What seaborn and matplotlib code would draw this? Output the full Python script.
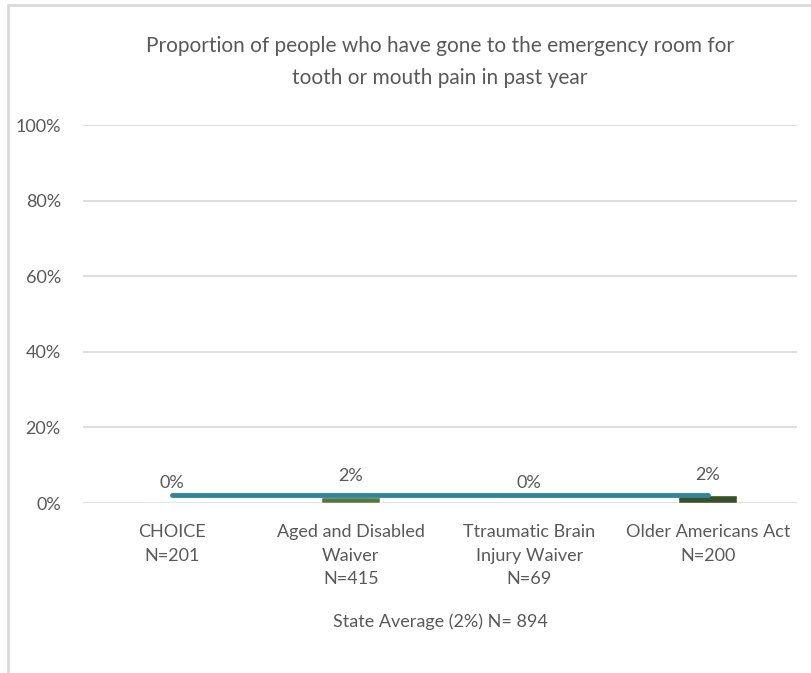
import numpy as np
import pandas as pd
import seaborn as sns
import matplotlib.pyplot as plt
from matplotlib.lines import Line2D

# data
programs = ["CHOICE\nN=201",
            "Aged and Disabled\nWaiver\nN=415",
            "Ttraumatic Brain\nInjury Waiver\nN=69",
            "Older Americans Act\nN=200"]
pct = [0.0, 1.6, 0.0, 2.1]
pct_labels = ["0%", "2%", "0%", "2%"]
state_avg = 2.0
state_text = "State Average (2%) N= 894"
title = "Proportion of people who have gone to the emergency room for\ntooth or mouth pain in past year"

bar_colors = ["#70AD47", "#548235", "#A9D18E", "#375623"]
line_color = "#31869B"
text_color = "#595959"
grid_color = "#D9D9D9"

sns.set_theme(style="white")
plt.rcParams['font.family'] = ['Lato', 'DejaVu Sans']

df = pd.DataFrame({'program': programs, 'pct': pct})

fig = plt.figure(figsize=(8.12, 6.73), dpi=100)
ax = fig.add_axes([83 / 812, 1 - 503 / 673, (797 - 83) / 812, (503 - 125) / 673])

sns.barplot(data=df, x='program', y='pct', hue='program', palette=bar_colors,
            width=0.33, legend=False, ax=ax, zorder=2)

# state average line across the categories
xs = np.arange(len(programs))
ax.plot(xs, [state_avg] * len(programs), color=line_color, lw=3.5,
        solid_capstyle='round', zorder=3)

for x, v, lab in zip(xs, pct, pct_labels):
    ax.annotate(lab, (x, v), xytext=(0, 9), textcoords='offset points',
                ha='center', va='bottom', fontsize=13, color=text_color)

ax.set_ylim(0, 100)
ax.set_yticks(range(0, 101, 20))
ax.set_yticklabels([f"{t}%" for t in range(0, 101, 20)])
ax.set_xlim(-0.5, len(programs) - 0.5)
ax.yaxis.grid(True, color=grid_color, lw=1.2, zorder=0)
ax.set_axisbelow(True)
for s in ax.spines.values():
    s.set_visible(False)
ax.tick_params(axis='both', length=0, labelsize=13, labelcolor=text_color)
ax.tick_params(axis='y', pad=16)
ax.tick_params(axis='x', pad=15)
for t in ax.get_xticklabels():
    t.set_linespacing(1.6)
ax.set_xlabel("")
ax.set_ylabel("")

fig.text(440 / 812, 1 - 62 / 673, title, ha='center', va='center',
         fontsize=15, color=text_color, linespacing=1.75)
fig.text(440 / 812, 1 - 622 / 673, state_text, ha='center', va='center',
         fontsize=13, color=text_color)

# chart frame edges visible in the reference
fig.add_artist(Line2D([8 / 812, 1], [1 - 5 / 673, 1 - 5 / 673], color=grid_color, lw=2))
fig.add_artist(Line2D([8 / 812, 8 / 812], [0, 1 - 5 / 673], color=grid_color, lw=2))

fig.savefig("out.png", dpi=100)
